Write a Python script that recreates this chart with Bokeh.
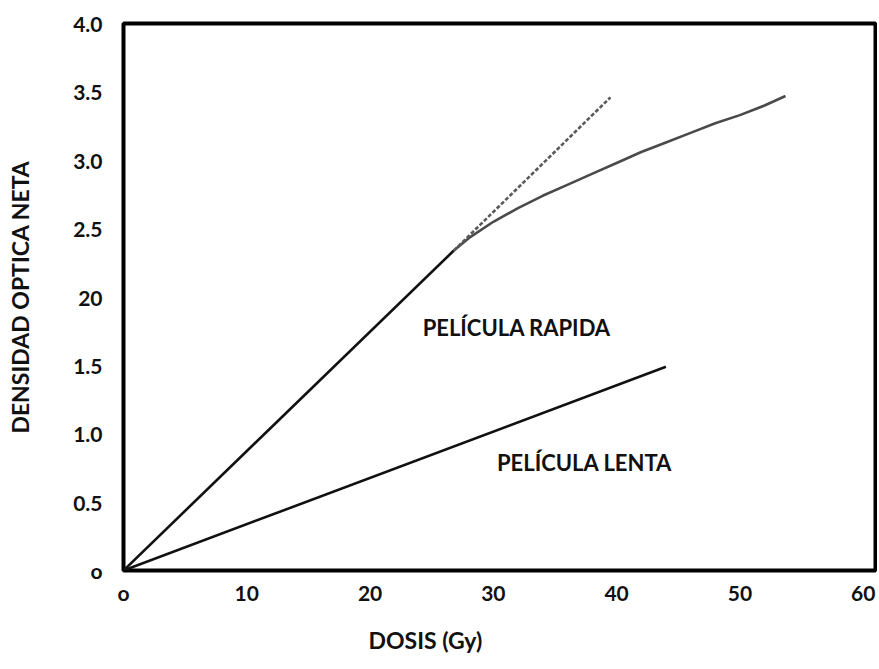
from bokeh.plotting import figure
from bokeh.models import ColumnDataSource, FixedTicker, Range1d, Title
from bokeh.core.properties import value
from bokeh.embed import file_html
from bokeh.resources import INLINE

# ---- data ----
fast_lin_dose = [0, 26.8]
fast_lin_od = [0, 2.34]

fast_sat_dose = [26.8, 28, 30, 32, 34, 36, 38, 40, 42, 44, 46, 48, 50, 52, 53.7]
fast_sat_od = [2.34, 2.43, 2.55, 2.65, 2.74, 2.82, 2.90, 2.98, 3.06, 3.13, 3.20, 3.27, 3.33, 3.40, 3.47]

fast_extrap_dose = [26.8, 39.5]
fast_extrap_od = [2.34, 3.46]

slow_dose = [0, 44.0]
slow_od = [0, 1.49]

label_text = ["PELÍCULA RAPIDA", "PELÍCULA LENTA"]
label_dose = [31.9, 37.4]
label_od = [1.78, 0.79]

x_ticks = [0, 10, 20, 30, 40, 50, 60]
x_tick_labels = ["o", "10", "20", "30", "40", "50", "60"]
y_ticks = [0, 0.5, 1, 1.5, 2, 2.5, 3, 3.5, 4]
y_tick_labels = ["o", "0.5", "1.0", "1.5", "20", "2.5", "3.0", "3.5", "4.0"]

x_title = "DOSIS (Gy)"
y_title = "DENSIDAD OPTICA NETA"

FONT = "Lato"

p = figure(width=877, height=669, output_backend="svg", toolbar_location=None,
           x_range=Range1d(0, 61), y_range=Range1d(0, 4.0),
           min_border_left=123, min_border_right=2, min_border_top=23, min_border_bottom=97)

p.background_fill_color = "white"
p.border_fill_color = "white"
p.outline_line_color = "black"
p.outline_line_width = 4
p.xgrid.visible = False
p.ygrid.visible = False

# lines
p.line(fast_lin_dose, fast_lin_od, line_color="#111111", line_width=2.6)
p.line(fast_sat_dose, fast_sat_od, line_color="#4a4a4a", line_width=2.6)
p.line(fast_extrap_dose, fast_extrap_od, line_color="#5a5a5a", line_width=2.6, line_dash="4 2")
p.line(slow_dose, slow_od, line_color="#111111", line_width=2.6)

src = ColumnDataSource(dict(x=label_dose, y=label_od, t=label_text))
p.text(x="x", y="y", text="t", source=src, text_font=value(FONT), text_font_style="bold",
       text_font_size="22px", text_color="#111111", text_align="center", text_baseline="middle")

# axes
for ax in (p.xaxis[0], p.yaxis[0]):
    ax.axis_line_color = None
    ax.major_tick_line_color = None
    ax.minor_tick_line_color = None
    ax.major_tick_out = 0
    ax.major_tick_in = 0
    ax.minor_tick_out = 0
    ax.minor_tick_in = 0
    ax.major_label_text_font = FONT
    ax.major_label_text_font_style = "bold"
    ax.major_label_text_font_size = "21px"
    ax.major_label_text_color = "#111111"

p.xaxis.ticker = FixedTicker(ticks=x_ticks)
p.xaxis.major_label_overrides = {t: l for t, l in zip(x_ticks, x_tick_labels)}
p.xaxis.major_label_standoff = 9

p.yaxis.ticker = FixedTicker(ticks=y_ticks)
p.yaxis.major_label_overrides = {t: l for t, l in zip(y_ticks, y_tick_labels)}
p.yaxis.major_label_standoff = 21
p.yaxis.axis_label = y_title
p.yaxis.axis_label_text_font = FONT
p.yaxis.axis_label_text_font_style = "bold"
p.yaxis.axis_label_text_font_size = "23px"
p.yaxis.axis_label_text_color = "#111111"
p.yaxis.axis_label_standoff = 36

# x-axis title, off-centre below the axis as in the reference
p.add_layout(Title(text=x_title, align="left", offset=245, standoff=32,
                   vertical_align="bottom",
                   text_font=FONT, text_font_style="bold", text_font_size="23px",
                   text_color="#111111"), "below")

open("out.html", "w").write(file_html(p, INLINE))
